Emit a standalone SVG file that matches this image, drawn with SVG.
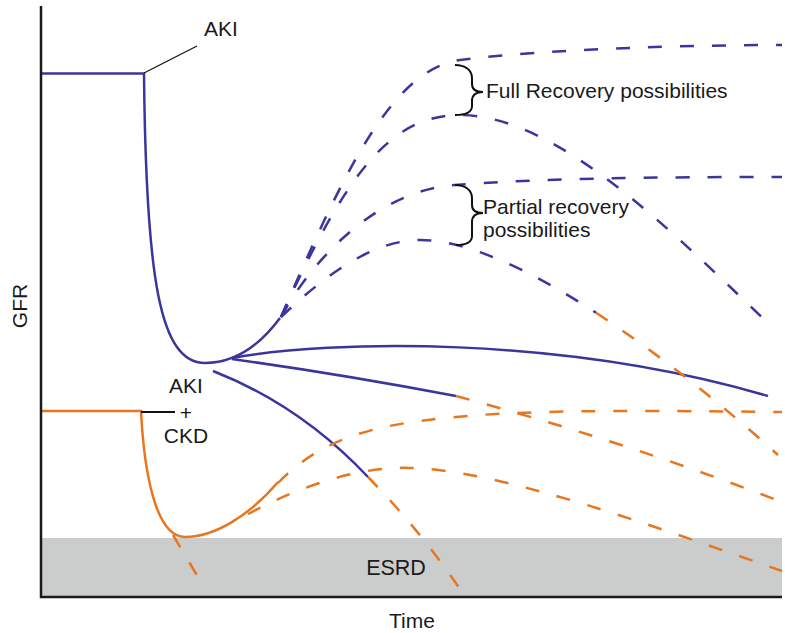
<svg xmlns="http://www.w3.org/2000/svg" width="785" height="633" viewBox="0 0 785 633">
<style>
text{font-family:"Liberation Sans",Arial,sans-serif;font-size:21px;fill:#1a1a1a}
.b{fill:none;stroke:#3b369b;stroke-width:2.5}
.o{fill:none;stroke:#e8761f;stroke-width:2.5}
.d{stroke-dasharray:14 18}
.k{fill:none;stroke:#111;stroke-width:2}
.t{fill:none;stroke:#111;stroke-width:1.2}
</style>
<rect width="785" height="633" fill="#fff"/>
<g id="esrd-band">
<rect x="42" y="538" width="740" height="58" fill="#cbcdcc"/>
<text x="396" y="575" text-anchor="middle" style="font-size:21.5px">ESRD</text>
</g>
<g id="connectors">
<path class="b" d="M41,73.5 H144 C146,280 160,363 205,363 C235,363 260,345 280,318"/>
<path class="b" d="M232,358 C330,340 560,335 768,396"/>
<path class="b" d="M232,359 Q340,374 456,396"/>
<path class="b" d="M213,371 Q300,405 368,477"/>
<path class="b d" d="M281,317 C341,179 390,70 460,60 C520,52 650,45 782,45"/>
<path class="b d" d="M281,317 C345,175 390,115 460,115 C560,115 680,240 770,325"/>
<path class="b d" d="M281,317 C315,255 380,190 455,185 C520,180 600,177 782,177"/>
<path class="b d" d="M281,317 C320,280 370,240 420,240 C464,240 526.2,267.2 596.1,312.8"/>
<path class="o d" d="M596.1,312.8 C653.2,350.4 715.9,398.8 778,455"/>
<path class="o" d="M41,411 H141 C144,470 155,537 185,537 C215,537 250,515 278,482"/>
<path class="o d" d="M278,483 C310,450 350,430 420,421 C500,410 600,410 782,412"/>
<path class="o d" d="M248,514 C300,486 360,466 410,468 C500,470 650,525 782,571"/>
<path class="o d" d="M456,396 Q620,440 782,502"/>
<path class="o d" d="M368,477 Q420,530 462,592"/>
<path class="o d" d="M173,535 L201,582"/>
<path class="t" d="M144,73 L197,46"/>
<path class="k" d="M141,412 H175"/>
</g>
<g id="axes">
<path d="M41,6 V597 H782" fill="none" stroke="#1a1a1a" stroke-width="2.5"/>
<text transform="translate(27,306) rotate(-90)" text-anchor="middle">GFR</text>
<text x="412" y="628" text-anchor="middle">Time</text>
</g>
<g id="aki-label">
<text x="204" y="36">AKI</text>
</g>
<g id="aki-ckd-label">
<text x="186" y="393" text-anchor="middle">AKI</text>
<text x="186" y="420" text-anchor="middle">+</text>
<text x="186" y="443" text-anchor="middle">CKD</text>
</g>
<g id="full-recovery">
<path class="k" d="M455,65 C465,65 472,70 472,78 L472,84 C472,90 476,92 483,92 C476,92 472,95 472,101 L472,106 C472,112 466,115 455,115"/>
<text x="486" y="98">Full Recovery possibilities</text>
</g>
<g id="partial-recovery">
<path class="k" d="M455,185 C465,185 472,190 472,198 L472,205 C472,211 476,213 483,213 C476,213 472,216 472,222 L472,236 C472,242 466,245 456,245"/>
<text x="483" y="214">Partial recovery</text>
<text x="483" y="237">possibilities</text>
</g>
</svg>
